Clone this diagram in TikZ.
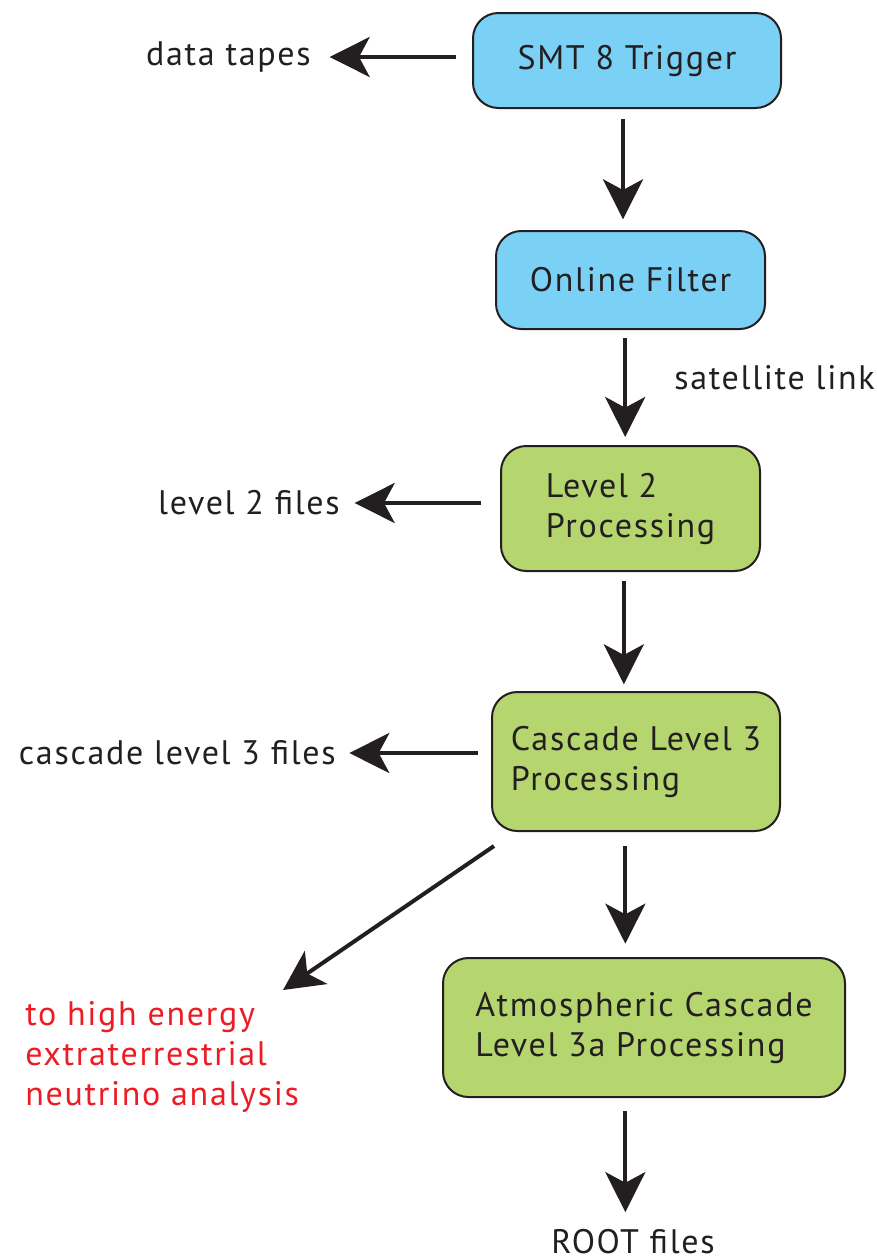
\documentclass[tikz,border=0pt]{standalone}
\usepackage{fontspec}
\setmainfont[LetterSpace=5]{PT Sans}
\usetikzlibrary{arrows.meta,positioning,calc}

\definecolor{inkgray}{RGB}{35,31,32}
\definecolor{filtblue}{RGB}{122,209,245}
\definecolor{procgreen}{RGB}{181,213,111}
\definecolor{targetred}{RGB}{237,28,36}

\tikzset{
  procbox/.style={draw=inkgray, line width=1.5pt, rounded corners=19pt, align=left, text=inkgray},
  flow/.style={draw=inkgray, line width=3pt, -{Stealth[length=30pt,width=30pt,inset=8pt]}},
  outlabel/.style={inner sep=0pt, text=inkgray}
}

\begin{document}
\begin{tikzpicture}[x=0.75pt,y=0.75pt,yscale=-1,xscale=1]
\fontsize{25.5}{30}\selectfont
\useasboundingbox (0,0) rectangle (877,1260);

%Rounded Rect: trigger
\node [procbox, fill=filtblue, minimum width=231pt, minimum height=71.25pt] (smt) at (627,60.5) {SMT 8 Trigger};
%Rounded Rect: online filter
\node [procbox, fill=filtblue, minimum width=201.75pt, minimum height=73.5pt] (online) at (630.5,280) {Online Filter};
%Rounded Rect: level 2
\node [procbox, fill=procgreen, minimum width=194.25pt, minimum height=93.75pt] (ltwo) at (630.5,508.5) {Level 2\\Processing};
%Rounded Rect: cascade level 3
\node [procbox, fill=procgreen, minimum width=216pt, minimum height=104.25pt] (lthree) at (636,761.5) {Cascade Level 3\\Processing};
%Rounded Rect: atmospheric level 3a
\node [procbox, fill=procgreen, minimum width=301.5pt, minimum height=104.25pt] (lthreea) at (644,1027.5) {Atmospheric Cascade\\Level 3a Processing};

% Text Node
\node [outlabel, anchor=east] (tapes) at (311,57) {data tapes};
% Text Node
\node [outlabel, anchor=west] (sat) at (674,378) {satellite link};
% Text Node
\node [outlabel, anchor=east] (ltwofiles) at (340,503) {level 2 files};
% Text Node
\node [outlabel, anchor=east] (lthreefiles) at (336,753) {cascade level 3 files};
% Text Node
\node [outlabel, anchor=base west, align=left, text=targetred] (hiext) at (25,1105) {to high energy\\extraterrestrial\\neutrino analysis};
% Text Node
\node [outlabel] (root) at (633,1242) {ROOT files};

\coordinate (hitip) at (283,990);

%Arrows down the chain
\draw [flow, shorten <=7.5pt, shorten >=8pt] ([xshift=-3pt]smt.south) -- ([xshift=-3pt]smt.south |- online.north);
\draw [flow, shorten <=6pt, shorten >=6pt] ([xshift=-4pt]online.south) -- ([xshift=-4pt]online.south |- ltwo.north);
\draw [flow, shorten <=7pt, shorten >=5pt] ([xshift=-5pt]ltwo.south) -- ([xshift=-5pt]ltwo.south |- lthree.north);
\draw [flow, shorten <=10.5pt, shorten >=10pt] ([xshift=-8pt]lthree.south) -- ([xshift=-8pt]lthree.south |- lthreea.north);
\draw [flow, shorten <=10pt, shorten >=13pt] ([xshift=-14pt]lthreea.south) -- ([xshift=-14pt]lthreea.south |- root.north);

%Arrows out to the side
\draw [flow, shorten <=12pt, shorten >=14pt] (tapes.east -| smt.west) -- (tapes.east);
\draw [flow, shorten <=14pt, shorten >=11pt] (ltwofiles.east -| ltwo.west) -- (ltwofiles.east);
\draw [flow, shorten <=10pt, shorten >=10pt] (lthreefiles.east -| lthree.west) -- (lthreefiles.east);
\draw [flow] ([shift={(3,14)}]lthree.south west) -- (hitip);

\end{tikzpicture}
\end{document}
